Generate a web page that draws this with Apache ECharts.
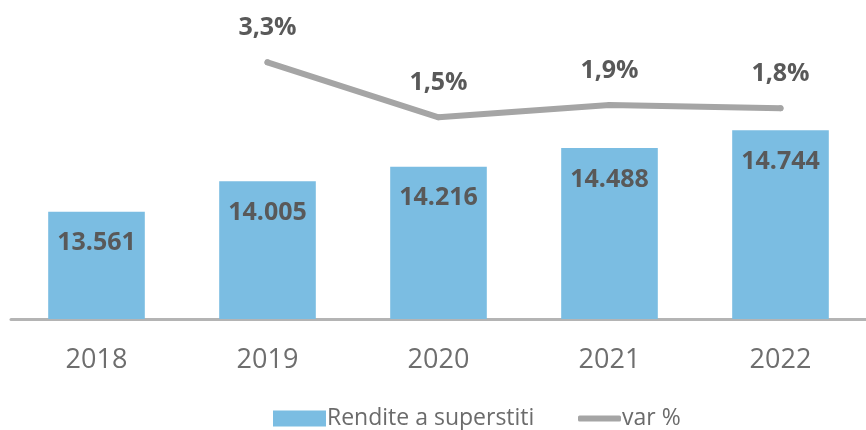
<!DOCTYPE html>
<html>
<head>
<meta charset="utf-8">
<script src="https://cdn.jsdelivr.net/npm/echarts@6/dist/echarts.min.js"></script>
<style>
  html, body { margin: 0; padding: 0; background: #fff; }
  #chart { width: 866px; height: 430px; }
</style>
</head>
<body>
<div id="chart"></div>
<script>
// dati
const anni = ['2018', '2019', '2020', '2021', '2022']
const rendite = [13561, 14005, 14216, 14488, 14744]
const variazione = ['-', 3.3, 1.5, 1.9, 1.8]

const fmtMigliaia = (v) => String(v).replace(/\B(?=(\d{3})+(?!\d))/g, '.')
const fmtPerc = (v) => v.toFixed(1).replace('.', ',') + '%'

const chart = echarts.init(document.getElementById('chart'))

const options = {
  animation: false,
  textStyle: { fontFamily: 'Open Sans' },
  grid: { left: 11, top: 44, width: 868, height: 275 },
  legend: [
    {
      data: [{ name: 'Rendite a superstiti', icon: 'rect' }],
      left: 268,
      top: 402,
      itemWidth: 53,
      itemHeight: 16,
      itemGap: 6,
      textStyle: { fontSize: 23, color: '#6b6b6b', fontFamily: 'Open Sans', padding: [0, 0, 0, -4] }
    },
    {
      data: [{ name: 'var %', icon: 'roundRect', itemStyle: { color: '#a5a5a5', opacity: 1 } }],
      left: 573,
      top: 402,
      itemWidth: 43,
      itemHeight: 6,
      textStyle: { fontSize: 23, color: '#6b6b6b', fontFamily: 'Open Sans', padding: [0, 0, 0, -4] }
    }
  ],
  xAxis: {
    type: 'category',
    data: anni,
    axisTick: { show: false },
    axisLine: { onZero: false, lineStyle: { color: '#b4b4b4', width: 3 } },
    axisLabel: { fontSize: 27, color: '#6e6e6e', margin: 28 }
  },
  yAxis: [
    { type: 'value', min: 12000, max: 16000, show: false, splitLine: { show: false } },
    { type: 'value', min: -5.1, max: 3.9, show: false, splitLine: { show: false } }
  ],
  series: [
    {
      name: 'Rendite a superstiti',
      type: 'bar',
      data: rendite,
      barWidth: '56.5%',
      itemStyle: { color: '#7bbde2' },
      label: {
        show: true,
        position: 'insideTop',
        distance: 19,
        fontSize: 25,
        fontWeight: 'bold',
        color: '#595959',
        formatter: (p) => fmtMigliaia(p.value)
      }
    },
    {
      name: 'var %',
      type: 'line',
      yAxisIndex: 1,
      data: variazione,
      symbol: 'circle',
      symbolSize: 6,
      showSymbol: true,
      lineStyle: { color: '#a5a5a5', width: 6, cap: 'round', join: 'round' },
      itemStyle: { color: '#a5a5a5' },
      label: {
        show: true,
        position: 'top',
        distance: 19,
        fontSize: 25,
        fontWeight: 'bold',
        color: '#595959',
        formatter: (p) => fmtPerc(p.value)
      }
    }
  ]
}

chart.setOption(options)
</script>
</body>
</html>
